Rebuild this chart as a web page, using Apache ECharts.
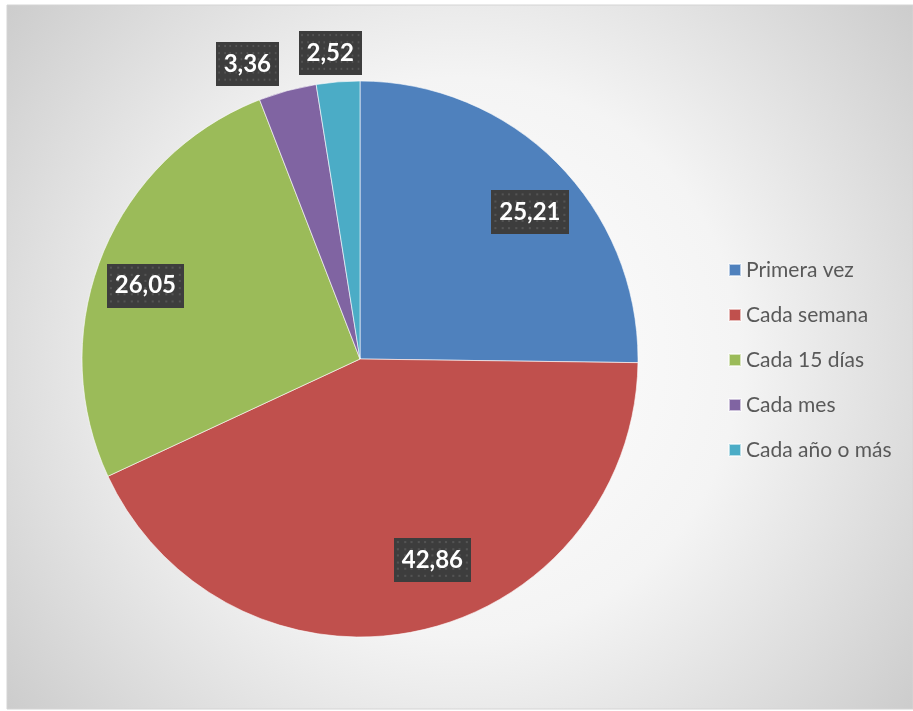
<!DOCTYPE html>
<html>
<head>
<meta charset="utf-8">
<script src="https://cdn.jsdelivr.net/npm/echarts@6/dist/echarts.min.js"></script>
<style>
  html, body { margin: 0; padding: 0; background: #ffffff; }
  #chart { width: 913px; height: 711px; }
</style>
</head>
<body>
<div id="chart"></div>
<script>
// Frequency categories and their shares (%)
const categories = ['Primera vez', 'Cada semana', 'Cada 15 días', 'Cada mes', 'Cada año o más'];
const shares = [25.21, 42.86, 26.05, 3.36, 2.52];
const colors = ['#4F81BD', '#C0504D', '#9BBB59', '#8064A2', '#4BACC6'];

// Slices whose labels sit inside the pie vs. just outside its rim
const insideLabelIdx = [0, 1, 2];
const outsideLabelIdx = [3, 4];
// Small nudges (px) applied to each value label
const labelNudge = [[9, 12], [25, -20], [-5, 11], [-31, 7], [-5, 6]];

const fmt = v => v.toFixed(2).replace('.', ',');

// Dark dotted tile used behind the value labels
function makeDotTile(w, h) {
  const c = document.createElement('canvas');
  c.width = w; c.height = h;
  const g = c.getContext('2d');
  g.fillStyle = '#3d3d3d';
  g.fillRect(0, 0, w, h);
  g.fillStyle = '#545454';
  for (let y = 3; y < h; y += 6.6) {
    for (let x = 3; x < w; x += 6.6) {
      g.fillRect(Math.round(x), Math.round(y), 2, 2);
    }
  }
  return c;
}
const dotTile = makeDotTile(74, 43);

const labelBox = {
  color: '#ffffff',
  fontFamily: 'Lato, "Open Sans", sans-serif',
  fontWeight: 'bold',
  fontSize: 24,
  lineHeight: 24,
  padding: [11, 8, 9, 8],
  backgroundColor: { image: dotTile },
  shadowColor: 'rgba(0,0,0,0.6)',
  shadowBlur: 6,
  shadowOffsetX: 4,
  shadowOffsetY: 4,
  formatter: p => fmt(p.value)
};

const pieData = categories.map((name, i) => ({
  name, value: shares[i], itemStyle: { color: colors[i] }
}));

function labelData(showIdx) {
  return categories.map((name, i) => ({
    name, value: shares[i],
    itemStyle: { color: 'rgba(0,0,0,0)' },
    label: { show: showIdx.includes(i), offset: labelNudge[i] }
  }));
}

const chart = echarts.init(document.getElementById('chart'), null, { renderer: 'canvas' });

function labelSeries(radius, showIdx) {
  return {
    type: 'pie',
    center: [360, 359],
    radius: radius,
    startAngle: 90,
    clockwise: true,
    avoidLabelOverlap: false,
    data: labelData(showIdx),
    label: Object.assign({ position: 'inside' }, labelBox),
    labelLine: { show: false },
    labelLayout: { hideOverlap: false },
    emphasis: { disabled: true },
    silent: true,
    legendHoverLink: false
  };
}

chart.setOption({
  animation: false,
  color: colors,
  graphic: [{
    type: 'rect',
    shape: { x: 7, y: 5, width: 906, height: 704 },
    z: -10,
    silent: true,
    style: {
      fill: new echarts.graphic.RadialGradient(0.5, 0.5, 0.88, [
        { offset: 0, color: '#ffffff' },
        { offset: 0.45, color: '#f4f4f4' },
        { offset: 1, color: '#c6c6c6' }
      ], false),
      stroke: '#d4d4d4',
      lineWidth: 1
    }
  }],
  legend: {
    orient: 'vertical',
    left: 723,
    top: 254,
    itemWidth: 12,
    itemHeight: 12,
    itemGap: 23,
    icon: 'rect',
    data: categories,
    textStyle: {
      fontFamily: 'Lato, "Open Sans", sans-serif',
      fontSize: 21,
      lineHeight: 22,
      color: '#595959'
    },
    selectedMode: false
  },
  series: [
    {
      type: 'pie',
      center: [360, 359],
      radius: [0, 278],
      startAngle: 90,
      clockwise: true,
      data: pieData,
      label: { show: false },
      labelLine: { show: false },
      itemStyle: { borderColor: 'rgba(255,255,255,0.6)', borderWidth: 1 },
      emphasis: { disabled: true },
      silent: true
    },
    labelSeries([168, 278], insideLabelIdx),
    labelSeries([290, 330], outsideLabelIdx)
  ]
});
</script>
</body>
</html>
